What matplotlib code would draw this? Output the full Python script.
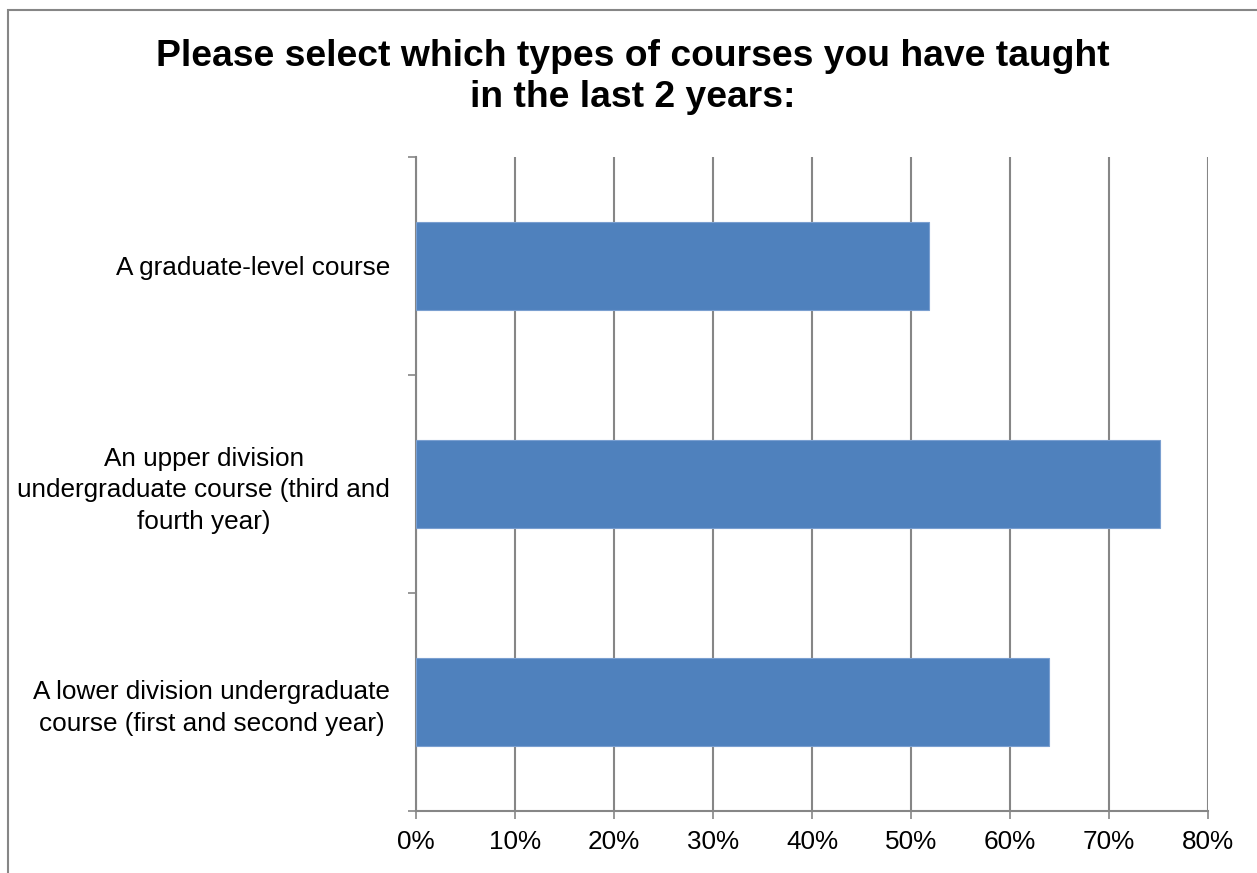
"""Course types bar chart."""

import matplotlib
matplotlib.use("Agg")
import matplotlib.pyplot as plt
from matplotlib.patches import Rectangle
from matplotlib.ticker import FixedLocator, PercentFormatter

plt.rcParams["font.family"] = ["Liberation Sans", "DejaVu Sans"]

# Data (top to bottom)
categories = [
    "A graduate-level course",
    "An upper division\nundergraduate course (third and\nfourth year)",
    "A lower division undergraduate\ncourse (first and second year)",
]
values = [51.8, 75.2, 63.9]
x_ticks = [0, 10, 20, 30, 40, 50, 60, 70, 80]

BAR_COLOR = "#4f81bd"
GRID_COLOR = "#868686"

fig = plt.figure(figsize=(12.57, 8.73), dpi=100)
fig.patch.set_facecolor("white")

# outer chart frame (cut at right and bottom in the reference)
fig.add_artist(Rectangle((8 / 1257, -0.1), 1.2, 0.1 + 863 / 873,
                         transform=fig.transFigure, fill=False,
                         edgecolor="#868686", linewidth=1.5))

ax = fig.add_axes([416 / 1257, 62 / 873, 792 / 1257, 654 / 873])

n = len(categories)
ypos = list(range(n))
ax.barh(ypos, values, height=0.4, color=BAR_COLOR, edgecolor="#7a9fd0",
        linewidth=0.8, zorder=3)
ax.set_ylim(n - 0.5, -0.5)
ax.set_xlim(0, 80)

ax.set_xticks(x_ticks)
ax.xaxis.set_major_formatter(PercentFormatter(decimals=0))
ax.set_yticks(ypos)
ax.set_yticklabels(categories, multialignment="center", linespacing=1.42)
ax.yaxis.set_minor_locator(FixedLocator([y - 0.5 for y in range(n + 1)]))

ax.tick_params(axis="y", which="major", length=0, pad=18.5, labelsize=18.8)
ax.tick_params(axis="y", which="minor", length=6, width=1.2, color=GRID_COLOR)
ax.tick_params(axis="x", which="major", length=6, width=1.2, color=GRID_COLOR,
               pad=8, labelsize=18.8)

ax.xaxis.grid(True, color=GRID_COLOR, linewidth=1.5, zorder=0)
ax.set_axisbelow(True)

for s in ["top", "right"]:
    ax.spines[s].set_visible(False)
for s in ["left", "bottom"]:
    ax.spines[s].set_color(GRID_COLOR)
    ax.spines[s].set_linewidth(1.5)

fig.text(633 / 1257, 1 - 77 / 873,
         "Please select which types of courses you have taught\nin the last 2 years:",
         ha="center", va="center", fontsize=26.8, fontweight="bold",
         linespacing=1.25)

fig.savefig("out.png", dpi=100, facecolor="white")
